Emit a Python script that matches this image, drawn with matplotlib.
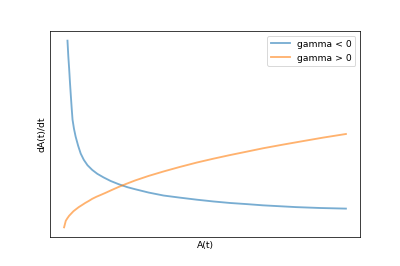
import matplotlib
matplotlib.use('Agg')
import matplotlib.pyplot as plt

# values (arbitrary units, axes carry no ticks)
a_neg = [0.12, 0.15, 0.18, 0.21, 0.24, 0.27, 0.30, 0.35, 0.41, 0.50, 0.59, 0.70, 0.83,
         1.0, 1.18, 1.40, 1.65, 1.94, 2.25, 2.53, 3.0, 3.53, 4.1, 4.71, 5.3, 5.88,
         6.5, 7.06, 7.65, 8.24, 9.1, 10.0]
rate_neg = [6.28, 5.75, 5.33, 4.85, 4.42, 4.0, 3.62, 3.32, 3.05, 2.74, 2.48, 2.27, 2.09,
            1.93, 1.80, 1.68, 1.56, 1.45, 1.35, 1.28, 1.17, 1.07, 1.00, 0.93, 0.87, 0.82,
            0.78, 0.74, 0.71, 0.68, 0.65, 0.63]

a_pos = [0.0, 0.06, 0.12, 0.18, 0.25, 0.33, 0.41, 0.52, 0.62, 0.75, 0.88, 1.0, 1.15,
         1.3, 1.47, 1.7, 1.94, 2.2, 2.53, 3.0, 3.53, 4.1, 4.71, 5.3, 5.88, 6.5, 7.06,
         7.75, 8.47, 9.2, 10.0]
rate_pos = [0.0, 0.22, 0.31, 0.39, 0.46, 0.54, 0.60, 0.68, 0.74, 0.82, 0.89, 0.96, 1.03,
            1.09, 1.16, 1.26, 1.36, 1.46, 1.58, 1.73, 1.88, 2.03, 2.18, 2.31, 2.43,
            2.55, 2.66, 2.78, 2.90, 3.02, 3.14]

fig, ax = plt.subplots(figsize=(6, 4), dpi=400 / 6)
ax.plot(a_neg, rate_neg, lw=2, alpha=0.6, label='gamma < 0')
ax.plot(a_pos, rate_pos, lw=2, alpha=0.6, label='gamma > 0')
ax.set_xticks([])
ax.set_yticks([])
ax.set_xlabel('A(t)')
ax.set_ylabel('dA(t)/dt')
ax.legend(loc='upper right')
fig.savefig('out.png')
